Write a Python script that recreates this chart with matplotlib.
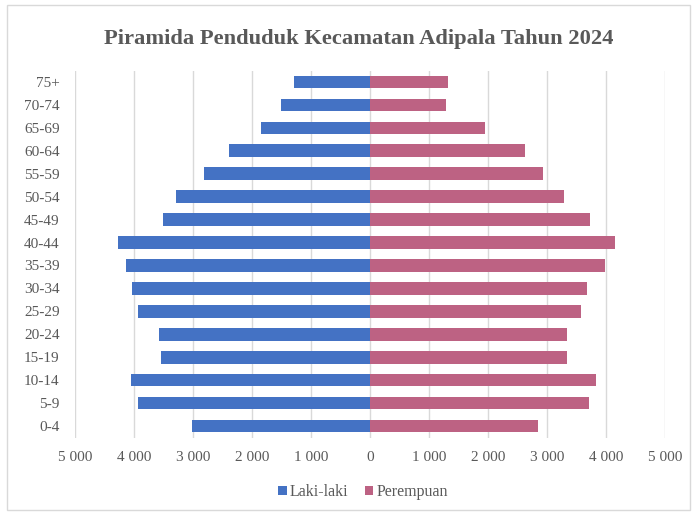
import matplotlib
matplotlib.use("Agg")
import matplotlib.pyplot as plt
from matplotlib.ticker import FuncFormatter, MultipleLocator
from matplotlib.patches import Rectangle

age_groups = ["0-4", "5-9", "10-14", "15-19", "20-24", "25-29", "30-34", "35-39",
              "40-44", "45-49", "50-54", "55-59", "60-64", "65-69", "70-74", "75+"]
laki_laki = [3010, 3925, 4050, 3540, 3570, 3935, 4040, 4130,
             4270, 3515, 3280, 2810, 2390, 1850, 1510, 1290]
perempuan = [2855, 3715, 3835, 3340, 3345, 3575, 3670, 3990,
             4150, 3725, 3290, 2925, 2620, 1945, 1295, 1320]

title = "Piramida Penduduk Kecamatan Adipala Tahun 2024"
blue = "#4472C4"
pink = "#BD6283"
gray_text = "#595959"
serif = ["Liberation Serif", "DejaVu Serif"]

fig = plt.figure(figsize=(6.93, 5.13), dpi=100)
ax = fig.add_axes([75/693, 1 - 437.5/513, (665 - 75)/693, (437.5 - 70.5)/513])

y = list(range(len(age_groups)))
ax.barh(y, [-v for v in laki_laki], height=0.55, color=blue, label="Laki-laki", zorder=3)
ax.barh(y, perempuan, height=0.55, color=pink, label="Perempuan", zorder=3)

ax.set_xlim(-5000, 5000)
ax.set_ylim(-0.5, len(age_groups) - 0.5)
ax.xaxis.set_major_locator(MultipleLocator(1000))
ax.xaxis.set_major_formatter(FuncFormatter(
    lambda v, p: "0" if v == 0 else f"{abs(int(round(v))):,}".replace(",", " ")))
ax.set_yticks(y)
ax.set_yticklabels(age_groups)
ax.grid(axis="x", color="#D9D9D9", linewidth=1, zorder=0)
for s in ax.spines.values():
    s.set_visible(False)
ax.tick_params(axis="both", length=0, labelsize=11, labelcolor=gray_text)
ax.tick_params(axis="x", pad=10)
ax.tick_params(axis="y", pad=11)
for lbl in ax.get_xticklabels() + ax.get_yticklabels():
    lbl.set_fontfamily(serif)

fig.text(0.517, 1 - 39/513, title, ha="center", va="center",
         fontsize=16.2, fontweight="bold", color=gray_text, family=serif)

leg = fig.legend(loc="center", bbox_to_anchor=(363/693, 1 - 492/513), ncol=2,
                 frameon=False, handlelength=0.55, handleheight=0.55,
                 handletextpad=0.2, columnspacing=1.0,
                 prop={"family": serif, "size": 11.5})
for t in leg.get_texts():
    t.set_color(gray_text)

fig.patches.append(Rectangle((7/693, 3/513), 683/693, 505/513, transform=fig.transFigure,
                             fill=False, edgecolor="#D9D9D9", linewidth=1))

fig.savefig("out.png", dpi=100)
